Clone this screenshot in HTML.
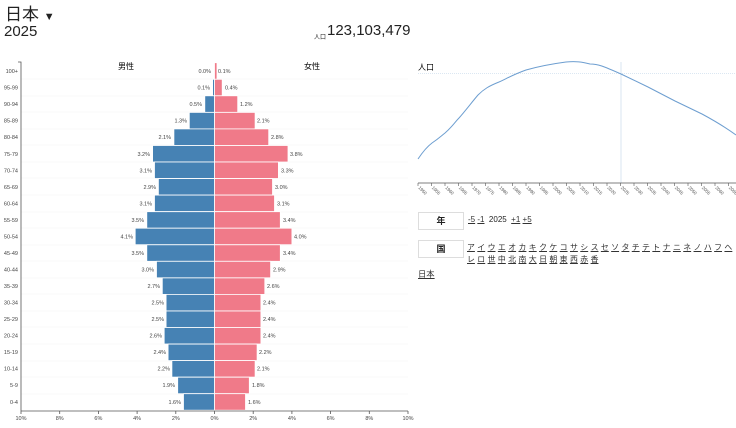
<!DOCTYPE html>
<html><head><meta charset="utf-8"><style>
body{margin:0;width:736px;height:428px;overflow:hidden;background:#fff;font-family:"Liberation Sans","Noto Sans CJK JP",sans-serif;color:#222;position:relative}
.a{position:absolute;white-space:nowrap}
.k a{color:#333;text-decoration:underline}
.k2 a{display:inline-block;margin-right:2.4px}
.box{position:absolute;border:1px solid #ddd;width:44px;height:16px;text-align:center;font-size:9px;font-weight:bold;line-height:16px}
</style></head><body>
<div class="a" style="left:5px;top:0px;font-size:17px">日本 <span style="font-size:11px">▼</span></div>
<div class="a" style="left:4px;top:23px;font-size:15px">2025</div>
<div class="a" style="left:314px;top:32px;font-size:6px">人口</div>
<div class="a" style="left:327px;top:22px;font-size:15px">123,103,479</div>

<svg class="a" style="left:0;top:0" width="736" height="428" font-family="Liberation Sans, Noto Sans CJK JP, sans-serif">
<g stroke="#f4f4f4" stroke-width="0.6">
<line x1="21" x2="408" y1="79" y2="79"/><line x1="21" x2="408" y1="96" y2="96"/><line x1="21" x2="408" y1="112" y2="112"/><line x1="21" x2="408" y1="129" y2="129"/><line x1="21" x2="408" y1="145" y2="145"/><line x1="21" x2="408" y1="162" y2="162"/><line x1="21" x2="408" y1="178" y2="178"/><line x1="21" x2="408" y1="195" y2="195"/><line x1="21" x2="408" y1="212" y2="212"/><line x1="21" x2="408" y1="228" y2="228"/><line x1="21" x2="408" y1="245" y2="245"/><line x1="21" x2="408" y1="261" y2="261"/><line x1="21" x2="408" y1="278" y2="278"/><line x1="21" x2="408" y1="294" y2="294"/><line x1="21" x2="408" y1="311" y2="311"/><line x1="21" x2="408" y1="327" y2="327"/><line x1="21" x2="408" y1="344" y2="344"/><line x1="21" x2="408" y1="361" y2="361"/><line x1="21" x2="408" y1="377" y2="377"/><line x1="21" x2="408" y1="394" y2="394"/>
</g>
<text x="118" y="69" font-size="8">男性</text><text x="304" y="69" font-size="8">女性</text>
<g fill="#4682b4" stroke="#fff" stroke-width="0.8">
<rect x="214" y="62.7" width="0.5" height="16.5"/>
<rect x="212.6" y="79.3" width="1.9" height="16.5"/>
<rect x="204.8" y="95.8" width="9.7" height="16.5"/>
<rect x="189.3" y="112.4" width="25.2" height="16.5"/>
<rect x="173.9" y="128.9" width="40.6" height="16.5"/>
<rect x="152.6" y="145.5" width="61.9" height="16.5"/>
<rect x="154.5" y="162" width="60" height="16.5"/>
<rect x="158.4" y="178.6" width="56.1" height="16.5"/>
<rect x="154.5" y="195.1" width="60" height="16.5"/>
<rect x="146.8" y="211.7" width="67.7" height="16.5"/>
<rect x="135.2" y="228.2" width="79.3" height="16.5"/>
<rect x="146.8" y="244.8" width="67.7" height="16.5"/>
<rect x="156.5" y="261.3" width="58" height="16.5"/>
<rect x="162.3" y="277.9" width="52.2" height="16.5"/>
<rect x="166.1" y="294.4" width="48.4" height="16.5"/>
<rect x="166.1" y="311" width="48.4" height="16.5"/>
<rect x="164.2" y="327.5" width="50.3" height="16.5"/>
<rect x="168.1" y="344.1" width="46.4" height="16.5"/>
<rect x="171.9" y="360.6" width="42.6" height="16.5"/>
<rect x="177.7" y="377.2" width="36.8" height="16.5"/>
<rect x="183.5" y="393.7" width="31" height="16.5"/>
</g>
<g fill="#f07a89" stroke="#fff" stroke-width="0.8">
<rect x="214.5" y="62.7" width="2.5" height="16.5"/>
<rect x="214.5" y="79.3" width="7.7" height="16.5"/>
<rect x="214.5" y="95.8" width="23.2" height="16.5"/>
<rect x="214.5" y="112.4" width="40.6" height="16.5"/>
<rect x="214.5" y="128.9" width="54.2" height="16.5"/>
<rect x="214.5" y="145.5" width="73.5" height="16.5"/>
<rect x="214.5" y="162" width="63.9" height="16.5"/>
<rect x="214.5" y="178.6" width="58" height="16.5"/>
<rect x="214.5" y="195.1" width="60" height="16.5"/>
<rect x="214.5" y="211.7" width="65.8" height="16.5"/>
<rect x="214.5" y="228.2" width="77.4" height="16.5"/>
<rect x="214.5" y="244.8" width="65.8" height="16.5"/>
<rect x="214.5" y="261.3" width="56.1" height="16.5"/>
<rect x="214.5" y="277.9" width="50.3" height="16.5"/>
<rect x="214.5" y="294.4" width="46.4" height="16.5"/>
<rect x="214.5" y="311" width="46.4" height="16.5"/>
<rect x="214.5" y="327.5" width="46.4" height="16.5"/>
<rect x="214.5" y="344.1" width="42.6" height="16.5"/>
<rect x="214.5" y="360.6" width="40.6" height="16.5"/>
<rect x="214.5" y="377.2" width="34.8" height="16.5"/>
<rect x="214.5" y="393.7" width="31" height="16.5"/>
</g>
<g font-size="5.5" fill="#444" text-anchor="end">
<text x="211" y="73">0.0%</text><text x="210" y="89.5">0.1%</text><text x="202" y="106">0.5%</text><text x="187" y="122.5">1.3%</text><text x="171" y="139">2.1%</text><text x="150" y="156">3.2%</text><text x="152" y="172.5">3.1%</text><text x="156" y="189">2.9%</text><text x="152" y="205.5">3.1%</text><text x="144" y="222">3.5%</text><text x="133" y="238.5">4.1%</text><text x="144" y="255">3.5%</text><text x="154" y="271.5">3.0%</text><text x="160" y="288">2.7%</text><text x="164" y="304.5">2.5%</text><text x="164" y="321">2.5%</text><text x="162" y="337.5">2.6%</text><text x="166" y="354">2.4%</text><text x="170" y="370.5">2.2%</text><text x="175" y="387">1.9%</text><text x="181" y="404">1.6%</text>
</g>
<g font-size="5.5" fill="#444">
<text x="218" y="73">0.1%</text><text x="225" y="89.5">0.4%</text><text x="240" y="106">1.2%</text><text x="257" y="122.5">2.1%</text><text x="271" y="139">2.8%</text><text x="290" y="156">3.8%</text><text x="281" y="172.5">3.3%</text><text x="275" y="189">3.0%</text><text x="277" y="205.5">3.1%</text><text x="283" y="222">3.4%</text><text x="294" y="238.5">4.0%</text><text x="283" y="255">3.4%</text><text x="273" y="271.5">2.9%</text><text x="267" y="288">2.6%</text><text x="263" y="304.5">2.4%</text><text x="263" y="321">2.4%</text><text x="263" y="337.5">2.4%</text><text x="259" y="354">2.2%</text><text x="257" y="370.5">2.1%</text><text x="252" y="387">1.8%</text><text x="248" y="404">1.6%</text>
</g>
<g font-size="5.5" fill="#444" text-anchor="end">
<text x="18" y="73">100+</text><text x="18" y="89.5">95-99</text><text x="18" y="106">90-94</text><text x="18" y="122.5">85-89</text><text x="18" y="139">80-84</text><text x="18" y="156">75-79</text><text x="18" y="172.5">70-74</text><text x="18" y="189">65-69</text><text x="18" y="205.5">60-64</text><text x="18" y="222">55-59</text><text x="18" y="238.5">50-54</text><text x="18" y="255">45-49</text><text x="18" y="271.5">40-44</text><text x="18" y="288">35-39</text><text x="18" y="304.5">30-34</text><text x="18" y="321">25-29</text><text x="18" y="337.5">20-24</text><text x="18" y="354">15-19</text><text x="18" y="370.5">10-14</text><text x="18" y="387">5-9</text><text x="18" y="404">0-4</text>
</g>
<g stroke="#555" stroke-width="0.8" fill="none">
<path d="M18,62H21V411"/><path d="M21,411H408"/>
<path d="M21,411v3M59.7,411v3M98.4,411v3M137.1,411v3M175.8,411v3M214.5,411v3M253.2,411v3M291.9,411v3M330.6,411v3M369.3,411v3M408,411v3"/>
</g>
<g font-size="5.5" fill="#444" text-anchor="middle">
<text x="21" y="420">10%</text><text x="59.7" y="420">8%</text><text x="98.4" y="420">6%</text><text x="137.1" y="420">4%</text><text x="175.8" y="420">2%</text><text x="214.5" y="420">0%</text><text x="253.2" y="420">2%</text><text x="291.9" y="420">4%</text><text x="330.6" y="420">6%</text><text x="369.3" y="420">8%</text><text x="408" y="420">10%</text>
</g>

<text x="418" y="70" font-size="8">人口</text>
<line x1="418" x2="736" y1="73.5" y2="73.5" stroke="#cfe0ee" stroke-width="0.8" stroke-dasharray="1,1"/>
<line x1="621" x2="621" y1="62" y2="183" stroke="#cfe0ee" stroke-width="0.8"/>
<path d="M418,159 C424,150 428,146 432,143 C438,139 440,137 445,133 C452,127 455,122 459,118 C466,110 472,102 478,95 C484,89 489,86 499,82 C506,79 512,75 526,70 C540,66 551,64 566,62 C576,61 582,62 590,64 C598,64 603,66 621,74 L648,87 L675,101 L702,114 C715,121 725,127 736,135" stroke="#6d9ed0" stroke-width="1" fill="none"/>
<line x1="418" x2="736" y1="183" y2="183" stroke="#555" stroke-width="0.8"/>
<g stroke="#555" stroke-width="0.6">
<path d="M418,183v3M431.5,183v3M445,183v3M458.5,183v3M472,183v3M485.5,183v3M499,183v3M512.5,183v3M526,183v3M539.5,183v3M553,183v3M566.5,183v3M580,183v3M593.5,183v3M607,183v3M620.5,183v3M634,183v3M647.5,183v3M661,183v3M674.5,183v3M688,183v3M701.5,183v3M715,183v3M728.5,183v3"/>
</g>
<g font-size="4.5" fill="#555">
<text transform="translate(418,188) rotate(45)">1950</text><text transform="translate(431.5,188) rotate(45)">1955</text><text transform="translate(445,188) rotate(45)">1960</text><text transform="translate(458.5,188) rotate(45)">1965</text><text transform="translate(472,188) rotate(45)">1970</text><text transform="translate(485.5,188) rotate(45)">1975</text><text transform="translate(499,188) rotate(45)">1980</text><text transform="translate(512.5,188) rotate(45)">1985</text><text transform="translate(526,188) rotate(45)">1990</text><text transform="translate(539.5,188) rotate(45)">1995</text><text transform="translate(553,188) rotate(45)">2000</text><text transform="translate(566.5,188) rotate(45)">2005</text><text transform="translate(580,188) rotate(45)">2010</text><text transform="translate(593.5,188) rotate(45)">2015</text><text transform="translate(607,188) rotate(45)">2020</text><text transform="translate(620.5,188) rotate(45)">2025</text><text transform="translate(634,188) rotate(45)">2030</text><text transform="translate(647.5,188) rotate(45)">2035</text><text transform="translate(661,188) rotate(45)">2040</text><text transform="translate(674.5,188) rotate(45)">2045</text><text transform="translate(688,188) rotate(45)">2050</text><text transform="translate(701.5,188) rotate(45)">2055</text><text transform="translate(715,188) rotate(45)">2060</text><text transform="translate(728.5,188) rotate(45)">2065</text>
</g>
</svg>

<div class="box" style="left:418px;top:212px">年</div>
<div class="a k" style="left:468px;top:215px;font-size:8px"><a>-5</a> <a>-1</a> &nbsp;2025 &nbsp;<a>+1</a> <a>+5</a></div>
<div class="box" style="left:418px;top:240px">国</div>
<div class="a k k2" style="left:467px;top:242px;font-size:7.9px;line-height:12px"><a>ア</a><a>イ</a><a>ウ</a><a>エ</a><a>オ</a><a>カ</a><a>キ</a><a>ク</a><a>ケ</a><a>コ</a><a>サ</a><a>シ</a><a>ス</a><a>セ</a><a>ソ</a><a>タ</a><a>チ</a><a>テ</a><a>ト</a><a>ナ</a><a>ニ</a><a>ネ</a><a>ノ</a><a>ハ</a><a>フ</a><a>ヘ</a><br><a>レ</a><a>ロ</a><a>世</a><a>中</a><a>北</a><a>南</a><a>大</a><a>日</a><a>朝</a><a>東</a><a>西</a><a>赤</a><a>香</a></div>
<div class="a k" style="left:418px;top:268px;font-size:8.3px"><a>日本</a></div>
</body></html>
